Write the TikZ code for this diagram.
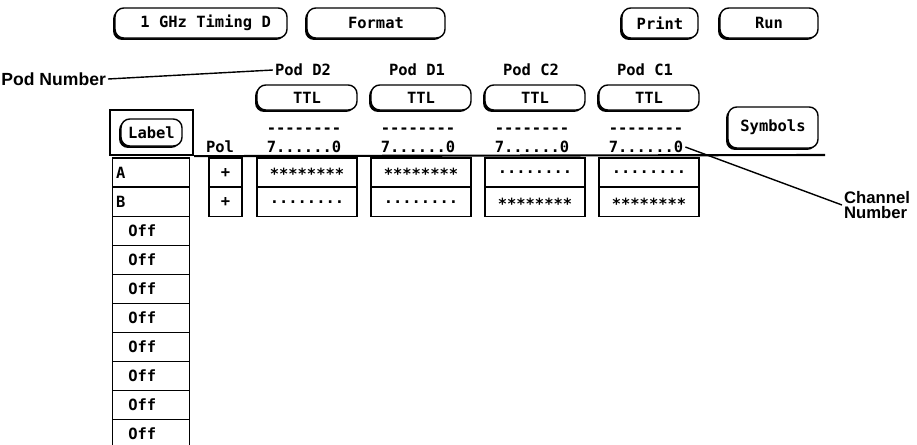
\documentclass[tikz,border=0pt]{standalone}
\usepackage{fontspec}
\setmainfont{Liberation Sans}
\newfontfamily\scrfont{DejaVu Sans Mono}[Ligatures=TeXOff]
\usetikzlibrary{positioning,shadows}

% one pixel of the screen
\def\px{0.2mm}

\tikzset{
  scr/.style={font=\scrfont\bfseries\fontsize{8.8}{10}\selectfont, inner sep=1pt},
  btn/.style={scr, draw, line width=0.8pt, rounded corners=5pt, fill=white,
    minimum height=30*\px, inner sep=0pt,
    drop shadow={shadow xshift=-1.1pt, shadow yshift=-1.1pt, fill=black, opacity=1}},
  cell/.style={scr, draw, line width=0.8pt, minimum height=29*\px, inner sep=0pt},
  lbl/.style={cell, minimum width=77*\px, text width=77*\px-4pt, inner xsep=2pt, align=left},
  callout/.style={font=\bfseries\fontsize{10}{13}\selectfont, inner sep=1pt},
}

\begin{document}
\begin{tikzpicture}[x=0.2mm, y=-0.2mm]
\useasboundingbox (0,0) rectangle (917,445);
\clip (0,0) rectangle (917,445);

% menu buttons
\node[btn, minimum width=172*\px] (timing) at (201,23) {\ 1 GHz Timing D};
\node[btn, minimum width=138*\px] (format) at (376,23) {Format};
\node[btn, minimum width=76*\px] (print) at (660,23) {Print};
\node[btn, minimum width=98*\px] (run) at (769,23) {Run};

% pods: name, column, row A, row B
\foreach \n/\i/\ra/\rb in {D2/0/{∗∗∗∗∗∗∗∗}/{........},
                           D1/1/{∗∗∗∗∗∗∗∗}/{........},
                           C2/2/{........}/{∗∗∗∗∗∗∗∗},
                           C1/3/{........}/{∗∗∗∗∗∗∗∗}}{
  \node[scr] (pod\n) at (303+114*\i,70) {Pod \n};
  \node[btn, minimum width=100*\px, minimum height=25*\px] (ttl\n) at (307+114*\i,97.5) {TTL};
  \node[scr] (dash\n) at (304+114*\i,131) {--------};
  \node[scr] (bits\n) at (304+114*\i,147) {7......0};
  \node[cell, minimum width=100*\px] (dat\n a) at (307+114*\i,172.5) {\ra};
  \node[cell, minimum width=100*\px] (dat\n b) at (307+114*\i,202) {\rb};
}

% label header
\node[draw, line width=1.3pt, minimum width=83*\px, minimum height=45*\px] (lblbox) at (151.5,132.5) {};
\node[btn, minimum width=61*\px, minimum height=27*\px] (label) at (lblbox) {Label};
\node[scr] (pol) at (220,147) {Pol};
\coordinate (hlend) at (825,155);
\draw[line width=1.2pt] (lblbox.south east) -- (hlend);
\node[btn, minimum width=90*\px, minimum height=41*\px] (symbols) at (773,127.5) {Symbols};

% label rows
\node[lbl] (rowA) at (151,172.5) {A};
\node[lbl] (rowB) at (151,202) {B};
\foreach \k in {1,...,8}
  \node[lbl] (off\k) at (151,202+29*\k) {\hspace*{7pt}Off};

% polarity
\node[cell, minimum width=33*\px] (polA) at (225.5,172.5) {+};
\node[cell, minimum width=33*\px] (polB) at (225.5,202) {+};

% callouts
\node[callout, anchor=east] (podnum) at (108,79) {Pod Number};
\draw[line width=0.8pt] (podnum.east) -- (podD2.west);
\node[callout, font=\bfseries\fontsize{9.5}{8.6}\selectfont, align=left, anchor=west] (chan) at (842,205) {Channel\\Number};
\draw[line width=0.8pt] (bitsC1.east) -- (chan.west);
\end{tikzpicture}
\end{document}
